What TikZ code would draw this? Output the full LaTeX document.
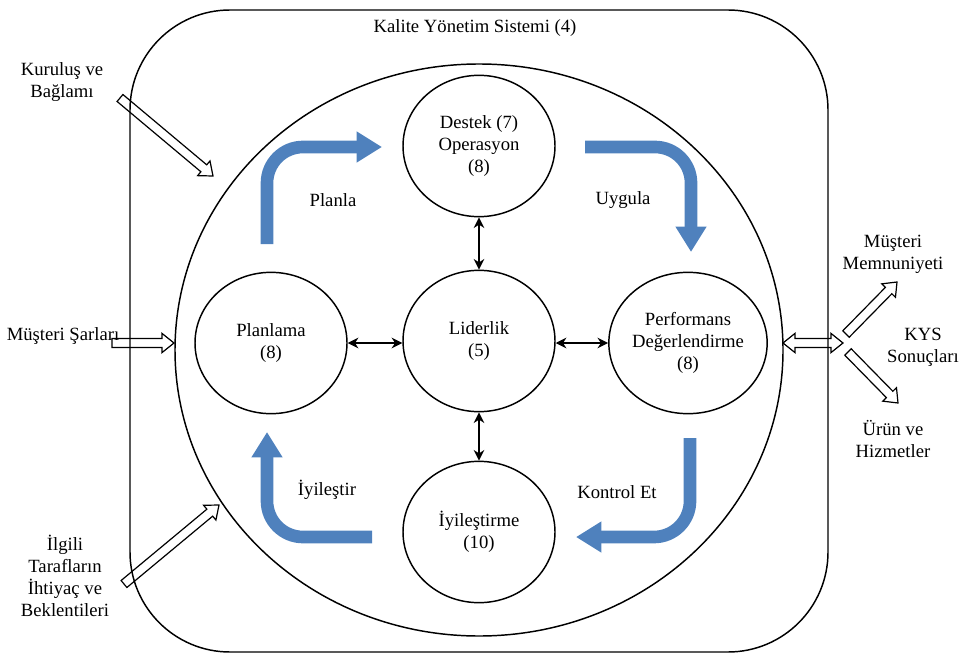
\documentclass[tikz,border=0pt]{standalone}
\usepackage{fontspec}
\setmainfont{Liberation Serif}
\usetikzlibrary{arrows.meta,calc,shapes.geometric}
\definecolor{flowblue}{HTML}{4F81BD}
\newcommand{\shaftw}{3.4pt}
\newcommand{\headw}{7.2pt}
\newcommand{\arrowlen}{9pt}
% outlined block arrow from #1 to #2
\newcommand{\hollowarrow}[2]{%
  \coordinate (hb) at ($(#2)!\arrowlen!(#1)$);
  \draw[hollow] ($(#1)!\shaftw!90:(#2)$) -- ($(hb)!\shaftw!90:(#2)$) -- ($(hb)!\headw!90:(#2)$) -- (#2)
    -- ($(hb)!\headw!-90:(#2)$) -- ($(hb)!\shaftw!-90:(#2)$) -- ($(#1)!\shaftw!-90:(#2)$) -- cycle;}
% outlined block arrow with two heads
\newcommand{\hollowdarrow}[2]{%
  \coordinate (ha) at ($(#1)!\arrowlen!(#2)$);
  \coordinate (hb) at ($(#2)!\arrowlen!(#1)$);
  \draw[hollow] (#1) -- ($(ha)!\headw!90:(#2)$) -- ($(ha)!\shaftw!90:(#2)$) -- ($(hb)!\shaftw!90:(#2)$)
    -- ($(hb)!\headw!90:(#2)$) -- (#2) -- ($(hb)!\headw!-90:(#2)$) -- ($(hb)!\shaftw!-90:(#2)$)
    -- ($(ha)!\shaftw!-90:(#2)$) -- ($(ha)!\headw!-90:(#2)$) -- cycle;}

\begin{document}
\begin{tikzpicture}[x=0.75pt,y=-0.75pt,font=\fontsize{14}{16.5}\selectfont,
  clause/.style={ellipse, draw, line width=1.1pt, minimum width=114pt, minimum height=106pt, inner sep=0pt, align=center},
  biarrow/.style={line width=1.1pt, {Stealth[length=8pt,width=8pt]}-{Stealth[length=8pt,width=8pt]}},
  flow/.style={flowblue, line width=9.5pt, rounded corners=27pt, -{Triangle[length=19pt,width=22pt]}},
  hollow/.style={draw=black, line width=0.9pt, line join=miter},
  sidetext/.style={align=center}]
\useasboundingbox (0,0) rectangle (962,659);

% System frame and PDCA ring
\node[draw, line width=1.1pt, rounded corners=75pt, minimum width=523.5pt, minimum height=481.5pt] (frame) at (479,331) {};
\node (title) at (475,28) {Kalite Yönetim Sistemi (4)};
\node[ellipse, draw, line width=1.1pt, minimum width=456pt, minimum height=429pt] (ring) at (479,350) {};

% Clauses
\node[clause] (destek) at (479,146) {Destek (7)\\Operasyon\\(8)};
\node[clause] (plan) at (271,343) {Planlama\\(8)};
\node[clause] (lider) at (479,341) {Liderlik\\(5)};
\node[clause] (perf) at (688,343) {Performans\\Değerlendirme\\(8)};
\node[clause] (iyi) at (479,532) {İyileştirme\\(10)};

\draw[biarrow] (destek) -- (lider);
\draw[biarrow] (lider) -- (iyi);
\draw[biarrow] (plan.east) -- (lider.west |- plan.east);
\draw[biarrow] (lider.east |- perf.west) -- (perf.west);

% PDCA flow
\draw[flow] (267,244) |- (382,147);
\draw[flow] (585,147) -| (691,252);
\draw[flow] (690,438) |- (576,537);
\draw[flow] (372,537) -| (267,432);
\node (planla) at (333,200) {Planla};
\node (uygula) at (623,200) {Uygula};
\node (kontrol) at (617,492) {Kontrol Et};
\node (iyiles) at (327,490) {İyileştir};

% Inputs
\node[sidetext] (kurulus) at (62,82) {Kuruluş ve\\Bağlamı};
\node[sidetext] (sartlar) at (63,336) {Müşteri Şarları};
\node[sidetext] (ilgili) at (65,576) {İlgili\\Tarafların\\İhtiyaç ve\\Beklentileri};
\coordinate (kurTail) at (120,98);  \coordinate (kurTip) at (213,176);
\coordinate (sarTail) at (112,343); \coordinate (sarTip) at (174,343);
\coordinate (ilgTail) at (124,584); \coordinate (ilgTip) at (219,505);
\hollowarrow{kurTail}{kurTip}
\hollowarrow{sarTail}{sarTip}
\hollowarrow{ilgTail}{ilgTip}

% Outputs
\node[sidetext] (memnun) at (893,254) {Müşteri\\Memnuniyeti};
\node[sidetext] (sonuc) at (923,347) {KYS\\Sonuçları};
\node[sidetext] (urun) at (893,439) {Ürün ve\\Hizmetler};
\coordinate (outL) at (783,343); \coordinate (outR) at (843,343);
\coordinate (upTail) at (846,334); \coordinate (upTip) at (897,282);
\coordinate (dnTail) at (848,352); \coordinate (dnTip) at (898,403);
\hollowdarrow{outL}{outR}
\hollowarrow{upTail}{upTip}
\hollowarrow{dnTail}{dnTip}
\end{tikzpicture}
\end{document}
